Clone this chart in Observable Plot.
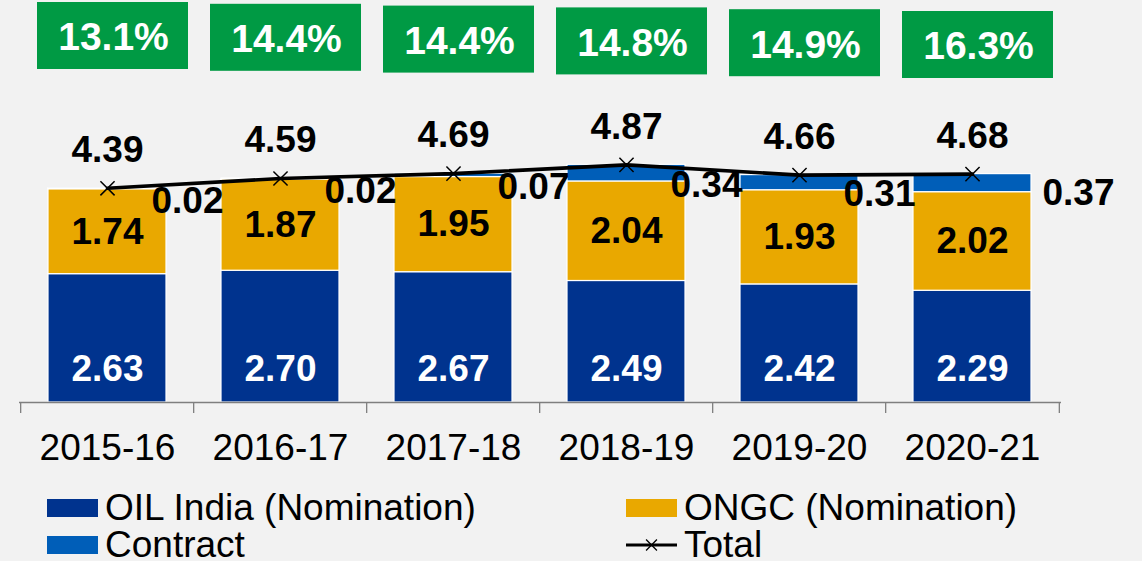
<!DOCTYPE html>
<html>
<head>
<meta charset="utf-8">
<script src="https://cdn.jsdelivr.net/npm/d3@7"></script>
<script src="https://cdn.jsdelivr.net/npm/@observablehq/plot@0.6"></script>
<style>
  html, body { margin: 0; padding: 0; background: #f2f2f2; }
  #wrap { position: relative; width: 1142px; height: 561px; overflow: hidden; background: #f2f2f2;
          font-family: "Liberation Sans", Arial, sans-serif; }
  #chart { position: absolute; left: 0; top: 0; }
  .leg { position: absolute; display: flex; align-items: center; font-size: 37px; color: #000; white-space: nowrap; height: 38px; }
  .sw { width: 51px; height: 18px; margin-right: 7px; }
</style>
</head>
<body>
<div id="wrap">
  <div id="chart"></div>
  <div id="legend"></div>
</div>
<script>
// ---- data ----
const years = ["2015-16", "2016-17", "2017-18", "2018-19", "2019-20", "2020-21"];
const oilIndia = [2.63, 2.70, 2.67, 2.49, 2.42, 2.29];
const ongc = [1.74, 1.87, 1.95, 2.04, 1.93, 2.02];
const contract = [0.02, 0.02, 0.07, 0.34, 0.31, 0.37];
const totals = [4.39, 4.59, 4.69, 4.87, 4.66, 4.68];
const shares = [13.1, 14.4, 14.4, 14.8, 14.9, 16.3];
const seriesNames = ["OIL India (Nomination)", "ONGC (Nomination)", "Contract"];
const seriesColors = ["#00338e", "#e9a800", "#005eb8"];

// ---- layout constants ----
const W = 1142, H = 480, baseline = 402, pxPerUnit = 48.8;
const mL = 19, mR = 81;
const step = (W - mL - mR) / years.length;
const yMax = baseline / pxPerUnit;
const boxTop = (baseline - 2) / pxPerUnit, boxBottom = (baseline - 69) / pxPerUnit, boxDrift = 1.8 / pxPerUnit;
const FONT = "'Liberation Sans', Arial, sans-serif";

const stacked = [];
years.forEach((y, i) => {
  stacked.push({year: y, series: seriesNames[0], value: oilIndia[i], order: 0});
  stacked.push({year: y, series: seriesNames[1], value: ongc[i], order: 1});
  stacked.push({year: y, series: seriesNames[2], value: contract[i], order: 2});
});
const rows = years.map((y, i) => ({year: y, i, oil: oilIndia[i], ongc: ongc[i], contract: contract[i], total: totals[i], share: shares[i]}));

const chart = Plot.plot({
  width: W, height: H,
  marginLeft: mL, marginRight: mR, marginTop: 0, marginBottom: H - baseline,
  style: {background: "transparent", fontFamily: FONT, fontSize: "37px", color: "#000", overflow: "visible"},
  x: {domain: years, paddingInner: 0.316, paddingOuter: 0.158, label: null},
  y: {domain: [0, yMax], axis: null},
  color: {domain: seriesNames, range: seriesColors},
  marks: [
    // share boxes
    Plot.barY(rows, {x: "year", y1: d => boxBottom - d.i * boxDrift, y2: d => boxTop - d.i * boxDrift,
      fill: "#009a44", insetLeft: -11, insetRight: -22}),
    Plot.text(rows, {x: "year", y: d => (boxTop + boxBottom) / 2 - d.i * boxDrift, text: d => d.share.toFixed(1) + "%",
      dx: 6, dy: 2, fill: "white", fontWeight: "bold", fontSize: 39}),
    // stacked bars
    Plot.barY(stacked, {x: "year", y: "value", fill: "series", order: "order", stroke: "white", strokeWidth: 1.2}),
    // axis line and boundary ticks
    Plot.ruleY([0], {stroke: "#7f7f7f", strokeWidth: 1.3}),
    Plot.ruleX(years, {x: d => d, dx: -step / 2, y1: 0, y2: -11 / pxPerUnit, stroke: "#7f7f7f", strokeWidth: 1.3}),
    Plot.ruleX(years.slice(-1), {x: d => d, dx: step / 2, y1: 0, y2: -11 / pxPerUnit, stroke: "#7f7f7f", strokeWidth: 1.3}),
    Plot.axisX({tickSize: 0, tickPadding: 31, fontSize: 37, label: null, fill: "#000"}),
    // segment labels
    Plot.text(rows, {x: "year", y: 0, text: d => d.oil.toFixed(2), dy: -33, fill: "white", fontWeight: "bold", fontSize: 37}),
    Plot.text(rows, {x: "year", y: d => d.oil + d.ongc / 2, text: d => d.ongc.toFixed(2), fill: "#000", fontWeight: "bold", fontSize: 37}),
    Plot.text(rows.slice(0, -1), {x: "year", y: d => d.oil + d.ongc + d.contract / 2, text: d => d.contract.toFixed(2),
      dx: 80, dy: 12, fill: "#000", fontWeight: "bold", fontSize: 37}),
    Plot.text(rows.slice(-1), {x: "year", y: d => d.oil + d.ongc + d.contract / 2, text: d => d.contract.toFixed(2),
      dx: 106, dy: 10, fill: "#000", fontWeight: "bold", fontSize: 37}),
    // total line
    Plot.line(rows, {x: "year", y: "total", stroke: "#000", strokeWidth: 3.6}),
    Plot.dot(rows, {x: "year", y: "total", symbol: "times", r: 6.5, stroke: "#000", strokeWidth: 1.5}),
    Plot.text(rows, {x: "year", y: "total", text: d => d.total.toFixed(2), dy: -38, fill: "#000", fontWeight: "bold", fontSize: 37})
  ]
});
document.getElementById("chart").appendChild(chart);

// ---- legend ----
const legendItems = [
  {label: seriesNames[0], color: seriesColors[0], left: 47, top: 489, type: "swatch"},
  {label: seriesNames[1], color: seriesColors[1], left: 626, top: 489, type: "swatch"},
  {label: seriesNames[2], color: seriesColors[2], left: 47, top: 526, type: "swatch"},
  {label: "Total", color: "#000", left: 626, top: 526, type: "line"}
];
const legend = document.getElementById("legend");
legendItems.forEach(it => {
  const div = document.createElement("div");
  div.className = "leg";
  div.style.left = it.left + "px";
  div.style.top = it.top + "px";
  if (it.type === "swatch") {
    const sw = document.createElement("div");
    sw.className = "sw";
    sw.style.background = it.color;
    div.appendChild(sw);
  } else {
    const ns = "http://www.w3.org/2000/svg";
    const s = document.createElementNS(ns, "svg");
    s.setAttribute("width", 51); s.setAttribute("height", 18);
    s.style.marginRight = "7px";
    const l = document.createElementNS(ns, "line");
    l.setAttribute("x1", 0); l.setAttribute("x2", 51); l.setAttribute("y1", 9); l.setAttribute("y2", 9);
    l.setAttribute("stroke", "#000"); l.setAttribute("stroke-width", 3);
    s.appendChild(l);
    const p = document.createElementNS(ns, "path");
    p.setAttribute("d", d3.symbol(d3.symbolTimes, Math.PI * 5 * 5)());
    p.setAttribute("transform", "translate(25.5,9)");
    p.setAttribute("stroke", "#000"); p.setAttribute("stroke-width", 1.3); p.setAttribute("fill", "none");
    s.appendChild(p);
    div.appendChild(s);
  }
  const t = document.createElement("span");
  t.textContent = it.label;
  div.appendChild(t);
  legend.appendChild(div);
});
</script>
</body>
</html>
